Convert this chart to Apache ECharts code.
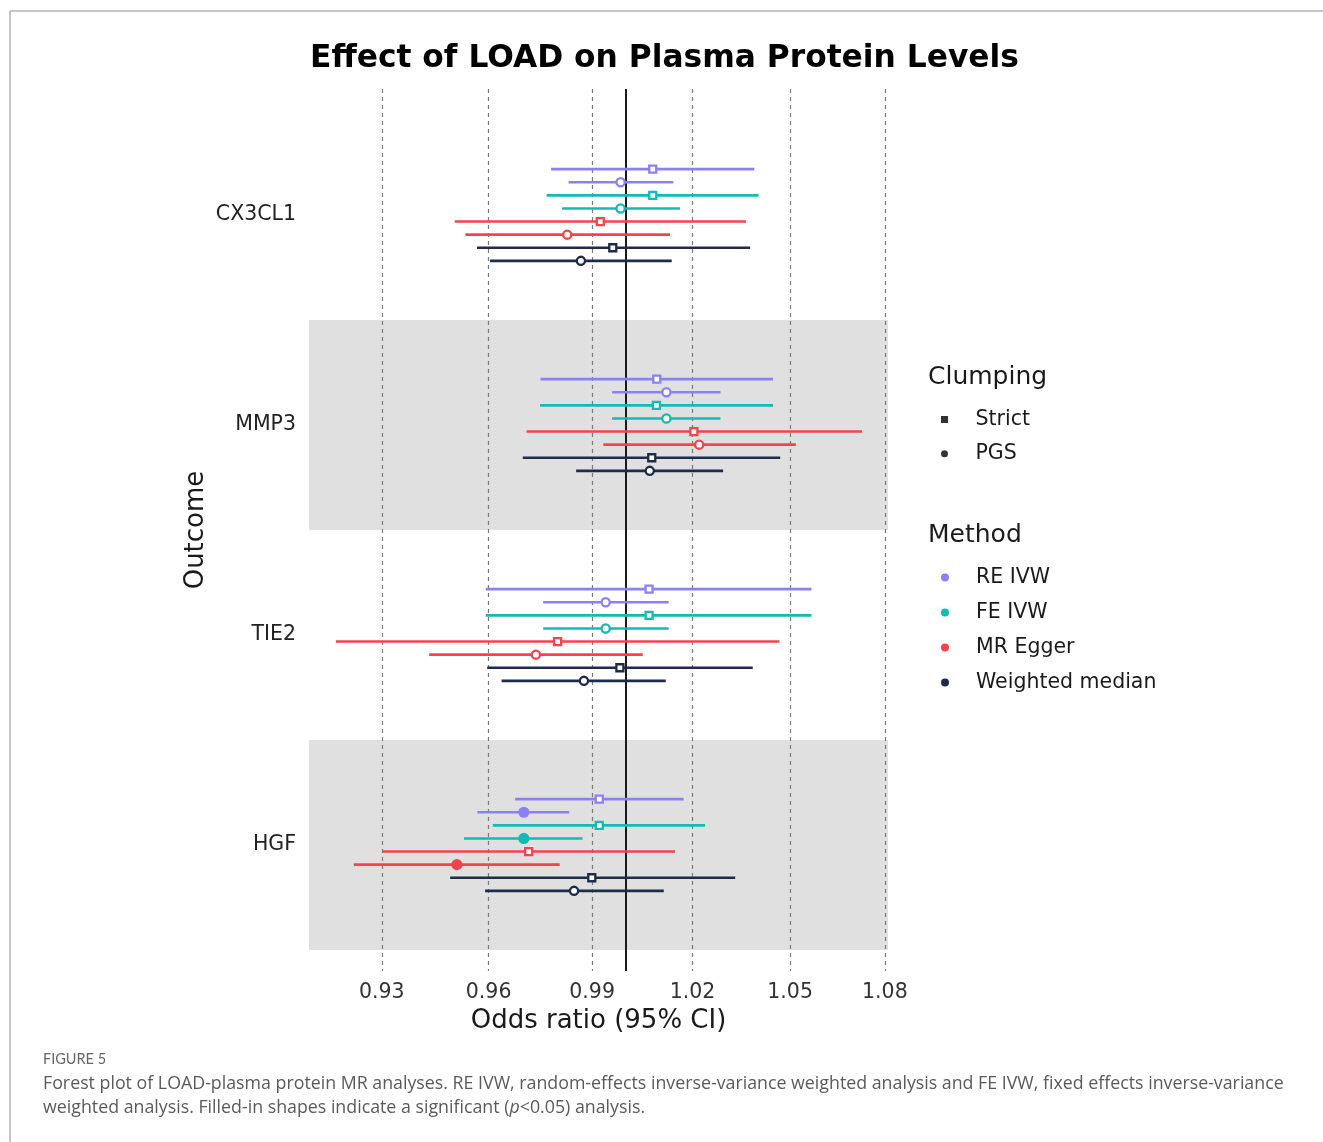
<!DOCTYPE html>
<html>
<head>
<meta charset="utf-8">
<script src="https://cdn.jsdelivr.net/npm/echarts@6/dist/echarts.min.js"></script>
<style>
  html, body { margin: 0; padding: 0; background: #fff; }
  #chart { width: 1323px; height: 1142px; }
</style>
</head>
<body>
<div id="chart"></div>
<script>
// ---------------- DATA ----------------
const categories = ['CX3CL1', 'MMP3', 'TIE2', 'HGF'];
const methods = ['RE IVW', 'FE IVW', 'MR Egger', 'Weighted median'];
const clumping = ['Strict', 'PGS'];
const xTicks = [0.93, 0.96, 0.99, 1.02, 1.05, 1.08];
const xMinOR = 0.9101;
const xMaxOR = 1.081;

// each entry: [odds ratio, lower 95% CI, upper 95% CI] per category
const reIvwStrict = [[1.0080, 0.9780, 1.0389], [1.0092, 0.9749, 1.0447], [1.0069, 0.9592, 1.0567], [0.9921, 0.9676, 1.0173]];
const reIvwPgs    = [[0.9984, 0.9831, 1.0142], [1.0121, 0.9959, 1.0285], [0.9940, 0.9757, 1.0128], [0.9701, 0.9568, 0.9833]];
const feIvwStrict = [[1.0080, 0.9767, 1.0402], [1.0091, 0.9748, 1.0447], [1.0069, 0.9592, 1.0567], [0.9921, 0.9612, 1.0238]];
const feIvwPgs    = [[0.9984, 0.9812, 1.0162], [1.0121, 0.9959, 1.0285], [0.9940, 0.9757, 1.0128], [0.9701, 0.9530, 0.9872]];
const mrEggerStrict = [[0.9924, 0.9504, 1.0363], [1.0204, 0.9709, 1.0727], [0.9799, 0.9174, 1.0467], [0.9715, 0.9303, 1.0147]];
const mrEggerPgs    = [[0.9827, 0.9534, 1.0132], [1.0220, 0.9933, 1.0518], [0.9736, 0.9432, 1.0050], [0.9510, 0.9223, 0.9805]];
const wmStrict = [[0.9961, 0.9567, 1.0376], [1.0077, 0.9698, 1.0469], [0.9982, 0.9596, 1.0384], [0.9899, 0.9491, 1.0330]];
const wmPgs    = [[0.9867, 0.9604, 1.0137], [1.0071, 0.9853, 1.0293], [0.9876, 0.9637, 1.0119], [0.9847, 0.9590, 1.0113]];

// significance (1 = filled shape, p<0.05)
const sigReIvwStrict = [0, 0, 0, 0];
const sigReIvwPgs    = [0, 0, 0, 1];
const sigFeIvwStrict = [0, 0, 0, 0];
const sigFeIvwPgs    = [0, 0, 0, 1];
const sigMrEggerStrict = [0, 0, 0, 0];
const sigMrEggerPgs    = [0, 0, 0, 1];
const sigWmStrict = [0, 0, 0, 0];
const sigWmPgs    = [0, 0, 0, 0];

// ---------------- STYLE / LAYOUT ----------------
const methodColors = ['#8c80f5', '#13bbb3', '#f4434c', '#1e2b4b'];
const FONT = 'DejaVu Sans';
const TXT = '#1a1a1a';
const rowsPerGroup = 8;
const rowStep = 0.0624;

const seriesData = [
  [reIvwStrict, reIvwPgs, sigReIvwStrict, sigReIvwPgs],
  [feIvwStrict, feIvwPgs, sigFeIvwStrict, sigFeIvwPgs],
  [mrEggerStrict, mrEggerPgs, sigMrEggerStrict, sigMrEggerPgs],
  [wmStrict, wmPgs, sigWmStrict, sigWmPgs]
];

function buildItems(mIdx) {
  const [strictArr, pgsArr, sigS, sigP] = seriesData[mIdx];
  const items = [];
  categories.forEach((cat, g) => {
    [[strictArr, sigS, 0], [pgsArr, sigP, 1]].forEach(([arr, sig, c]) => {
      const r = mIdx * 2 + c;
      const y = g + (r - (rowsPerGroup - 1) / 2) * rowStep;
      const d = arr[g];
      items.push([Math.log(d[0]), Math.log(d[1]), Math.log(d[2]), y, c, sig[g]]);
    });
  });
  return items;
}

function renderItem(params, api) {
  const y = api.value(3);
  const pE = api.coord([api.value(0), y]);
  const pL = api.coord([api.value(1), y]);
  const pH = api.coord([api.value(2), y]);
  const color = api.visual('color');
  const square = api.value(4) === 0;
  const filled = api.value(5) === 1;
  const children = [{
    type: 'line',
    shape: { x1: pL[0], y1: pL[1], x2: pH[0], y2: pH[1] },
    style: { stroke: color, lineWidth: 2.6 }
  }];
  if (square) {
    const s = filled ? 9 : 7;
    children.push({
      type: 'rect',
      shape: { x: pE[0] - s / 2, y: pE[1] - s / 2, width: s, height: s },
      style: { fill: filled ? color : '#fff', stroke: color, lineWidth: filled ? 0 : 2.3 }
    });
  } else if (filled) {
    children.push({ type: 'circle', shape: { cx: pE[0], cy: pE[1], r: 5.6 }, style: { fill: color } });
  } else {
    children.push({
      type: 'circle', shape: { cx: pE[0], cy: pE[1], r: 4.1 },
      style: { fill: '#fff', stroke: color, lineWidth: 2.3 }
    });
  }
  return { type: 'group', children };
}

const gridTop = 89, gridLeft = 309, gridRight = 1323 - 888, gridBottom = 1142 - 971;

const methodSeries = methods.map((m, i) => ({
  name: m,
  type: 'custom',
  renderItem,
  itemStyle: { color: methodColors[i] },
  encode: { x: [0, 1, 2], y: 3 },
  data: buildItems(i),
  z: 5,
  silent: true
}));

const squareIcon = 'path://M0,0L10,0L10,10L0,10Z';

const option = {
  backgroundColor: '#fff',
  animation: false,
  title: {
    text: 'Effect of LOAD on Plasma Protein Levels',
    left: 310,
    top: 43,
    padding: 0,
    textStyle: { fontFamily: FONT, fontWeight: 'bold', fontSize: 31.3, color: '#000' }
  },
  grid: { top: gridTop, left: gridLeft, right: gridRight, bottom: gridBottom, containLabel: false },
  xAxis: {
    type: 'value',
    min: Math.log(xMinOR),
    max: Math.log(xMaxOR),
    name: 'Odds ratio (95% CI)',
    nameLocation: 'middle',
    nameGap: 37,
    nameTextStyle: { fontFamily: FONT, fontSize: 26, color: TXT },
    axisLine: { show: false },
    axisTick: { show: false },
    splitLine: { show: false },
    axisLabel: {
      customValues: xTicks.map(t => Math.log(t)),
      formatter: v => Math.exp(v).toFixed(2),
      fontFamily: FONT, fontSize: 20.5, color: '#333', margin: 11
    }
  },
  yAxis: {
    type: 'value',
    inverse: true,
    min: -0.6,
    max: categories.length - 1 + 0.6,
    name: 'Outcome',
    nameLocation: 'middle',
    nameRotate: 90,
    nameGap: 100,
    nameTextStyle: { fontFamily: FONT, fontSize: 26, color: TXT },
    axisLine: { show: false },
    axisTick: { show: false },
    splitLine: { show: false },
    axisLabel: {
      customValues: categories.map((c, i) => i),
      formatter: v => categories[Math.round(v)],
      fontFamily: FONT, fontSize: 20.5, color: '#222', margin: 13,
      padding: [3, 0, 0, 0]
    }
  },
  legend: [
    {
      orient: 'vertical',
      left: 936,
      top: 404,
      itemWidth: 52,
      itemHeight: 7,
      itemGap: 13.3,
      selectedMode: false,
      data: [{ name: 'Strict', icon: squareIcon }, { name: 'PGS', icon: 'circle' }],
      textStyle: { fontFamily: FONT, fontSize: 20.5, color: TXT, lineHeight: 20 }
    },
    {
      orient: 'vertical',
      left: 936,
      top: 562,
      itemWidth: 52,
      itemHeight: 8,
      itemGap: 14,
      selectedMode: false,
      data: methods.map(m => ({ name: m, icon: 'circle' })),
      textStyle: { fontFamily: FONT, fontSize: 20.5, color: TXT, lineHeight: 20 }
    }
  ],
  graphic: [
    { type: 'line', shape: { x1: 10, y1: 11, x2: 1323, y2: 11 }, style: { stroke: '#b3b3b3', lineWidth: 1.5 }, silent: true },
    { type: 'line', shape: { x1: 10, y1: 11, x2: 10, y2: 1142 }, style: { stroke: '#b3b3b3', lineWidth: 1.5 }, silent: true },
    { type: 'text', left: 928, top: 365, style: { text: 'Clumping', font: '25px "DejaVu Sans"', fill: TXT } },
    { type: 'text', left: 928, top: 523, style: { text: 'Method', font: '25px "DejaVu Sans"', fill: TXT } },
    { type: 'text', left: 43, top: 1052, style: { text: 'FIGURE 5', font: '14.5px Lato', fill: '#666' } },
    {
      type: 'text', left: 43, top: 1072,
      style: {
        text: 'Forest plot of LOAD-plasma protein MR analyses. RE IVW, random-effects inverse-variance weighted analysis and FE IVW, fixed effects inverse-variance\n' +
              'weighted analysis. Filled-in shapes indicate a significant ({i|p}<0.05) analysis.',
        font: '17.8px "Open Sans"', fill: '#5a5a5a', lineHeight: 24,
        rich: { i: { font: 'italic 17.8px "Open Sans"', fill: '#5a5a5a' } }
      }
    }
  ],
  series: [
    {
      name: 'bands',
      type: 'line',
      data: [],
      silent: true,
      z: 1,
      markArea: {
        silent: true,
        itemStyle: { color: '#e0e0e0' },
        data: categories.map((c, i) => i).filter(i => i % 2 === 1).map(i => [{ yAxis: i - 0.5 }, { yAxis: i + 0.5 }])
      }
    },
    {
      name: 'refLines',
      type: 'line',
      data: [],
      silent: true,
      z: 2,
      markLine: {
        silent: true,
        precision: 12,
        symbol: 'none',
        label: { show: false },
        data: xTicks.map(t => ({ xAxis: Math.log(t), lineStyle: { type: [4, 4], color: '#7a7a7a', width: 1.2 } }))
          .concat([{ xAxis: 0, lineStyle: { type: 'solid', color: '#1a1a1a', width: 2 } }])
      }
    },
    { name: 'Strict', type: 'scatter', data: [], itemStyle: { color: '#000' } },
    { name: 'PGS', type: 'scatter', data: [], itemStyle: { color: '#000' } }
  ].concat(methodSeries)
};

const chart = echarts.init(document.getElementById('chart'), null, { renderer: 'canvas' });
chart.setOption(option);
</script>
</body>
</html>
